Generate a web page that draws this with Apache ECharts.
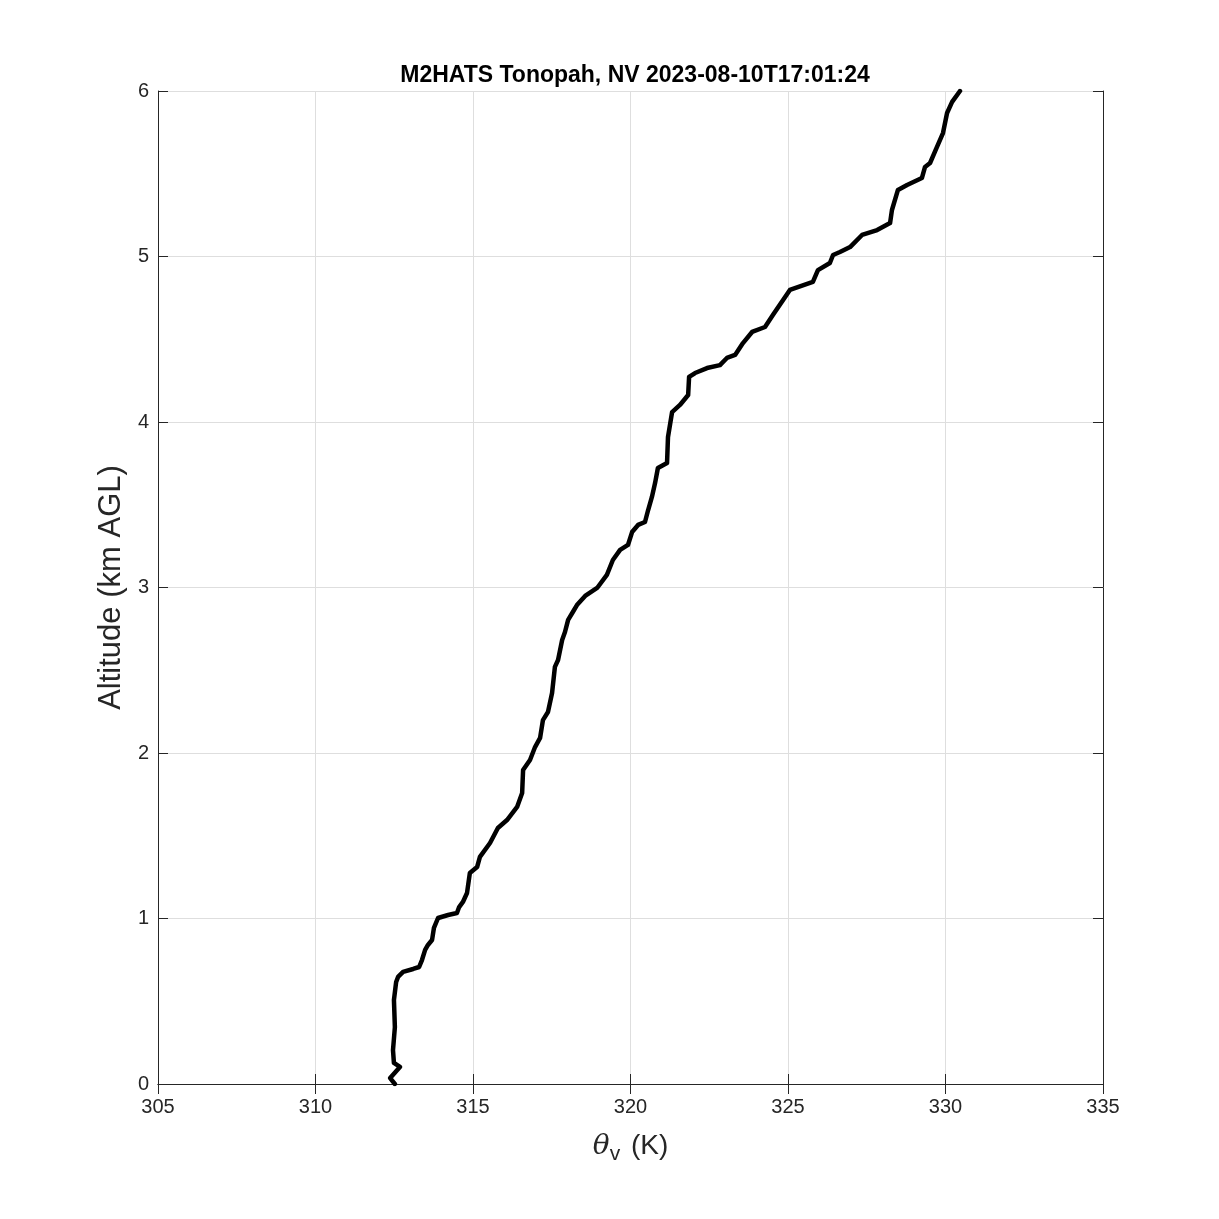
<!DOCTYPE html>
<html>
<head>
<meta charset="utf-8">
<script src="https://cdn.jsdelivr.net/npm/echarts@6/dist/echarts.min.js"></script>
<style>
  html, body { margin: 0; padding: 0; background: #fff; }
</style>
</head>
<body>
<div id="main" style="width: 1219px; height: 1219px"></div>
<script>
// virtual potential temperature (K) and altitude (km AGL)
const thetaV = [312.52, 312.37, 312.68, 312.49, 312.46, 312.52, 312.49, 312.56, 312.62, 312.78,
  313.10, 313.29, 313.38, 313.48, 313.57, 313.70, 313.76, 313.89, 314.21, 314.49,
  314.56, 314.68, 314.81, 314.90, 315.13, 315.22, 315.54, 315.79, 316.08, 316.40,
  316.56, 316.59, 316.81, 316.97, 317.13, 317.22, 317.38, 317.51, 317.60, 317.70,
  317.83, 317.92, 318.02, 318.17, 318.30, 318.56, 318.94, 319.25, 319.44, 319.67,
  319.92, 320.05, 320.24, 320.46, 320.56, 320.68, 320.78, 320.87, 321.16, 321.19,
  321.32, 321.57, 321.83, 321.86, 322.05, 322.43, 322.84, 323.06, 323.32, 323.57,
  323.86, 324.27, 324.52, 325.06, 325.79, 325.95, 326.33, 326.43, 326.65, 326.97,
  327.35, 327.83, 328.24, 328.30, 328.49, 328.78, 329.25, 329.35, 329.51, 329.73,
  329.92, 330.05, 330.21, 330.46]
const altKm = [0, 0.036, 0.103, 0.127, 0.205, 0.344, 0.508, 0.616, 0.647, 0.677,
  0.695, 0.707, 0.749, 0.810, 0.840, 0.870, 0.943, 1.003, 1.021, 1.033,
  1.069, 1.100, 1.154, 1.275, 1.311, 1.372, 1.456, 1.547, 1.595, 1.674,
  1.758, 1.897, 1.958, 2.036, 2.091, 2.199, 2.248, 2.363, 2.520, 2.562,
  2.683, 2.731, 2.804, 2.852, 2.894, 2.949, 2.997, 3.076, 3.166, 3.227,
  3.257, 3.335, 3.378, 3.396, 3.468, 3.547, 3.631, 3.722, 3.752, 3.909,
  4.060, 4.103, 4.163, 4.272, 4.296, 4.326, 4.344, 4.387, 4.405, 4.477,
  4.544, 4.574, 4.647, 4.798, 4.846, 4.918, 4.961, 5.009, 5.027, 5.057,
  5.130, 5.160, 5.202, 5.281, 5.402, 5.432, 5.474, 5.541, 5.565, 5.662,
  5.746, 5.867, 5.934, 6.0]

const chart = echarts.init(document.getElementById('main'))
const font = 'Liberation Sans, Arial, Helvetica, sans-serif'
const axisColor = '#262626'

const profile = thetaV.map((t, i) => [t, altKm[i]])

const baseX = {
  type: 'value',
  min: 305,
  max: 335,
  interval: 5,
  axisLine: { show: true, lineStyle: { color: axisColor, width: 1 } },
  axisTick: { show: true, inside: true, length: 10, lineStyle: { color: axisColor } },
  splitLine: { show: false }
}
const baseY = {
  type: 'value',
  min: 0,
  max: 6,
  interval: 1,
  axisLine: { show: true, lineStyle: { color: axisColor, width: 1 } },
  axisTick: { show: true, inside: true, length: 10, lineStyle: { color: axisColor } },
  splitLine: { show: false }
}

const option = {
  backgroundColor: '#fff',
  animation: false,
  title: {
    text: 'M2HATS Tonopah, NV 2023-08-10T17:01:24',
    left: 630,
    textAlign: 'center',
    top: 59,
    textStyle: { fontFamily: font, fontSize: 23, fontWeight: 'bold', color: '#000' }
  },
  grid: { left: 158, right: 116, top: 91, bottom: 135 },
  xAxis: [
    Object.assign({}, baseX, {
      position: 'bottom',
      axisLabel: { fontFamily: font, fontSize: 20, color: axisColor, margin: 13 },
      splitLine: { show: true, lineStyle: { color: '#dedede', width: 1 } },
      name: '{i|θ}{s|v} (K)',
      nameLocation: 'middle',
      nameGap: 44,
      nameTextStyle: {
        fontFamily: font, fontSize: 28, color: axisColor,
        rich: {
          i: { fontFamily: 'DejaVu Serif, serif', fontStyle: 'italic', fontSize: 28, color: axisColor },
          s: { fontFamily: font, fontSize: 21, color: axisColor, verticalAlign: 'bottom', padding: [16, 3, 0, 0] }
        }
      }
    }),
    Object.assign({}, baseX, { position: 'top', axisLabel: { show: false } })
  ],
  yAxis: [
    Object.assign({}, baseY, {
      position: 'left',
      axisLabel: { fontFamily: font, fontSize: 20, color: axisColor, margin: 9 },
      splitLine: { show: true, lineStyle: { color: '#dedede', width: 1 } },
      name: 'Altitude (km AGL)',
      nameLocation: 'middle',
      nameGap: 24,
      nameRotate: 90,
      nameTextStyle: { fontFamily: font, fontSize: 31, color: axisColor }
    }),
    Object.assign({}, baseY, { position: 'right', axisLabel: { show: false } })
  ],
  series: [
    {
      type: 'line',
      data: profile,
      showSymbol: false,
      xAxisIndex: 0,
      yAxisIndex: 0,
      lineStyle: { color: '#000', width: 4.5, join: 'round', cap: 'round' },
      itemStyle: { color: '#000' }
    }
  ]
}
chart.setOption(option)
</script>
</body>
</html>
